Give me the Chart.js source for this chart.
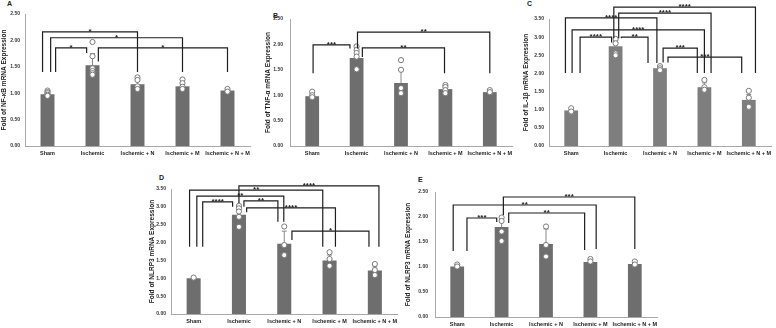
<!DOCTYPE html>
<html><head><meta charset="utf-8">
<script src="https://cdn.jsdelivr.net/npm/chart.js@4"></script>
<style>
html,body{margin:0;padding:0;background:#fff;width:776px;height:328px;overflow:hidden;position:relative}
canvas{position:absolute}
.lbl{position:absolute;font:bold 7px "Liberation Sans",Arial,sans-serif;color:#222;line-height:7px}
</style></head><body>
<div class="lbl" style="left:7px;top:0px">A</div>
<div class="lbl" style="left:273px;top:12px">B</div>
<div class="lbl" style="left:527px;top:0px">C</div>
<div class="lbl" style="left:159px;top:174px">D</div>
<div class="lbl" style="left:418px;top:176px">E</div>
<canvas id="cA" width="255" height="160" style="left:0px;top:0px"></canvas>
<canvas id="cB" width="262" height="160" style="left:255px;top:0px"></canvas>
<canvas id="cC" width="261" height="160" style="left:515px;top:0px"></canvas>
<canvas id="cD" width="265" height="163" style="left:140px;top:165px"></canvas>
<canvas id="cE" width="262" height="163" style="left:400px;top:165px"></canvas>
<script>
const categories = ['Sham', 'Ischemic', 'Ischemic + N', 'Ischemic + M', 'Ischemic + N + M'];

// Panel A: NF-κB
const titleA = 'Fold of NF-κB mRNA Expression';
const yMaxA = 2.5;
const meansA = [0.98, 1.53, 1.17, 1.13, 1.05];
const errA = [0.04, 0.22, 0.08, 0.07, 0.02];
const dotsA = [[1.05, 1.02, 1.00, 0.97, 0.95], [1.97, 1.70, 1.47, 1.42, 1.38, 1.35], [1.30, 1.25, 1.13, 1.08], [1.26, 1.19, 1.12, 1.08], [1.08, 1.03]];
// [fromX, toX, top, leftBottom, rightBottom, label]
const bracketsA = [[-0.11, 2.0, 2.16, 1.40, 1.40, '*'], [0.07, 3.0, 2.05, 1.40, 1.40, '*'], [0.18, 0.87, 1.86, 1.40, 1.76, '*'], [1.13, 4.0, 1.86, 1.60, 1.40, '*']];

// Panel B: TNF-α
const titleB = 'Fold of TNF-α mRNA Expression';
const yMaxB = 2.5;
const meansB = [0.98, 1.73, 1.24, 1.12, 1.06];
const errB = [0.05, 0.20, 0.26, 0.06, 0.03];
const dotsB = [[1.07, 1.00, 0.96], [1.96, 1.89, 1.83, 1.76, 1.51], [1.69, 1.50, 1.14, 1.04], [1.20, 1.16, 1.10, 1.04], [1.10, 1.06]];
const bracketsB = [[0.02, 0.85, 1.99, 1.43, 1.92, '***'], [1.13, 2.98, 1.93, 1.75, 1.43, '**'], [1.02, 4.0, 2.24, 1.92, 1.43, '**']];

// Panel C: IL-1β
const titleC = 'Fold of IL-1β mRNA Expression';
const yMaxC = 3.5;
const meansC = [0.98, 2.75, 2.14, 1.62, 1.27];
const errC = [0.04, 0.15, 0.04, 0.12, 0.15];
const dotsC = [[1.04, 0.95], [2.95, 2.83, 2.55, 2.50], [2.20, 2.14, 2.09], [1.82, 1.62, 1.55], [1.52, 1.33, 1.08]];
const bracketsC = [[0.96, 4.15, 3.83, 2.97, 2.01, '****'], [-0.13, 1.93, 3.53, 2.01, 2.29, '****'], [1.07, 3.15, 3.66, 2.97, 2.01, '****'], [0.02, 3.0, 3.20, 2.01, 2.01, '****'], [0.2, 0.91, 3.0, 2.01, 2.85, '****'], [1.13, 1.73, 3.0, 2.97, 2.29, '**'], [2.07, 2.84, 2.70, 2.30, 2.01, '***'], [2.18, 3.84, 2.45, 2.30, 2.01, '***']];

// Panel D: NLRP3
const titleD = 'Fold of NLRP3 mRNA Expression';
const yMaxD = 3.5;
const meansD = [1.00, 2.78, 1.97, 1.50, 1.22];
const errD = [0.02, 0.15, 0.35, 0.15, 0.10];
const dotsD = [[1.02], [3.03, 2.96, 2.87, 2.72, 2.44], [2.45, 1.93, 1.65], [1.73, 1.54, 1.35], [1.40, 1.23, 1.09]];
const bracketsD = [[1.0, 4.09, 3.59, 3.11, 1.88, '****'], [-0.09, 2.85, 3.47, 1.88, 1.88, '**'], [0.07, 1.99, 3.30, 1.88, 2.58, '**'], [0.2, 0.86, 3.14, 1.88, 3.0, '****'], [1.11, 1.86, 3.17, 3.0, 2.58, '**'], [1.17, 3.13, 2.97, 2.85, 1.88, '****'], [2.17, 3.87, 2.32, 2.07, 1.88, '*']];

// Panel E: NLRP3
const titleE = 'Fold of NLRP3 mRNA Expression';
const yMaxE = 2.5;
const meansE = [1.01, 1.80, 1.46, 1.10, 1.06];
const errE = [0.03, 0.18, 0.30, 0.04, 0.03];
const dotsE = [[1.05, 1.01], [1.99, 1.92, 1.71, 1.52], [1.81, 1.44, 1.21], [1.16, 1.11], [1.11, 1.05]];
const bracketsE = [[1.04, 4.0, 2.40, 2.04, 1.36, '***'], [-0.09, 3.13, 2.24, 1.32, 1.36, '**'], [1.16, 2.87, 2.08, 1.88, 1.34, '**'], [0.22, 0.89, 1.98, 1.32, 1.90, '***']];

const FONT = '"Liberation Sans", Arial, sans-serif';

function overlayPlugin(means, errs, brackets) {
  return {
    id: 'overlay',
    afterDatasetDraw(chart, args) {
      if (args.index !== 0) return;
      const xs = chart.scales.x, ys = chart.scales.y, ctx = chart.ctx;
      ctx.save();
      ctx.strokeStyle = '#8a8a8a';
      ctx.lineWidth = 1;
      means.forEach((m, i) => {
        const x = xs.getPixelForValue(i);
        const y0 = ys.getPixelForValue(m);
        const y1 = ys.getPixelForValue(m + errs[i]);
        ctx.beginPath();
        ctx.moveTo(x, y0); ctx.lineTo(x, y1);
        ctx.moveTo(x - 2.5, y1); ctx.lineTo(x + 2.5, y1);
        ctx.stroke();
      });
      ctx.restore();
    },
    afterDatasetsDraw(chart) {
      const xs = chart.scales.x, ys = chart.scales.y, ctx = chart.ctx;
      ctx.save();
      ctx.strokeStyle = '#1e1e1e';
      ctx.fillStyle = '#1e1e1e';
      ctx.lineWidth = 1.2;
      ctx.font = 'bold 8px ' + FONT;
      ctx.textAlign = 'center';
      ctx.textBaseline = 'alphabetic';
      brackets.forEach(b => {
        const x1 = xs.getPixelForValue(b[0]);
        const x2 = xs.getPixelForValue(b[1]);
        const yt = ys.getPixelForValue(b[2]);
        const yl = ys.getPixelForValue(b[3]);
        const yr = ys.getPixelForValue(b[4]);
        ctx.beginPath();
        ctx.moveTo(x1, yl); ctx.lineTo(x1, yt); ctx.lineTo(x2, yt); ctx.lineTo(x2, yr);
        ctx.stroke();
        ctx.fillText(b[5], (x1 + x2) / 2, yt + 2);
      });
      ctx.restore();
    }
  };
}

function makePanel(id, title, yMax, means, errs, dots, brackets, color, lay) {
  const canvas = document.getElementById(id);
  const W = canvas.width, H = canvas.height;
  const pts = [];
  dots.forEach((arr, i) => arr.forEach(v => pts.push({ x: categories[i], y: v })));
  new Chart(canvas, {
    type: 'bar',
    data: {
      labels: categories,
      datasets: [
        { type: 'bar', data: means, backgroundColor: color, borderWidth: 0, barPercentage: 0.31, categoryPercentage: 1, order: 2 },
        { type: 'line', data: pts, showLine: false, pointRadius: 2.6, pointBackgroundColor: '#ffffff', pointBorderColor: '#7a7a7a', pointBorderWidth: 1, order: 1, clip: false }
      ]
    },
    options: {
      responsive: false,
      devicePixelRatio: 1,
      animation: false,
      events: [],
      layout: { padding: { top: lay.top, right: W - lay.right, left: 0, bottom: 0 } },
      plugins: { legend: { display: false }, tooltip: { enabled: false } },
      scales: {
        x: {
          grid: { display: false, drawTicks: false },
          border: { display: true, color: '#a8a8a8', width: 1 },
          ticks: { autoSkip: false, maxRotation: 0, minRotation: 0, padding: 4.5, color: '#222', font: { size: 5.5, weight: 'bold', family: FONT } },
          afterFit(s) { s.height = H - lay.bottom; s.paddingLeft = 0; s.paddingRight = 0; }
        },
        y: {
          min: 0, max: yMax,
          grid: { display: false, drawTicks: false },
          border: { display: true, color: '#a8a8a8', width: 1 },
          ticks: { stepSize: 0.5, padding: lay.tickPad, color: '#333', font: { size: 5, weight: 'bold', family: FONT }, callback: v => Number(v).toFixed(2) },
          title: { display: true, text: title, color: '#222', padding: { top: lay.titlePad, bottom: 0 }, font: { size: 6.5, weight: 'bold', family: FONT } },
          afterFit(s) { s.width = lay.left; s.paddingTop = 0; s.paddingBottom = 0; }
        }
      }
    },
    plugins: [overlayPlugin(means, errs, brackets)]
  });
}

makePanel('cA', titleA, yMaxA, meansA, errA, dotsA, bracketsA, '#6e6e6e', { left: 25, right: 250, top: 14, bottom: 146, tickPad: 5, titlePad: 0 });
makePanel('cB', titleB, yMaxB, meansB, errB, dotsB, bracketsB, '#6e6e6e', { left: 35, right: 261.5, top: 19, bottom: 146, tickPad: 7, titlePad: 9 });
makePanel('cC', titleC, yMaxC, meansC, errC, dotsC, bracketsC, '#7e7e7e', { left: 34, right: 259.5, top: 19, bottom: 146, tickPad: 5, titlePad: 7 });
makePanel('cD', titleD, yMaxD, meansD, errD, dotsD, bracketsD, '#6e6e6e', { left: 31, right: 257.5, top: 24, bottom: 149, tickPad: 5, titlePad: 8 });
makePanel('cE', titleE, yMaxE, meansE, errE, dotsE, bracketsE, '#6e6e6e', { left: 35, right: 260.5, top: 27, bottom: 152, tickPad: 7, titlePad: 4 });
</script>
</body></html>
